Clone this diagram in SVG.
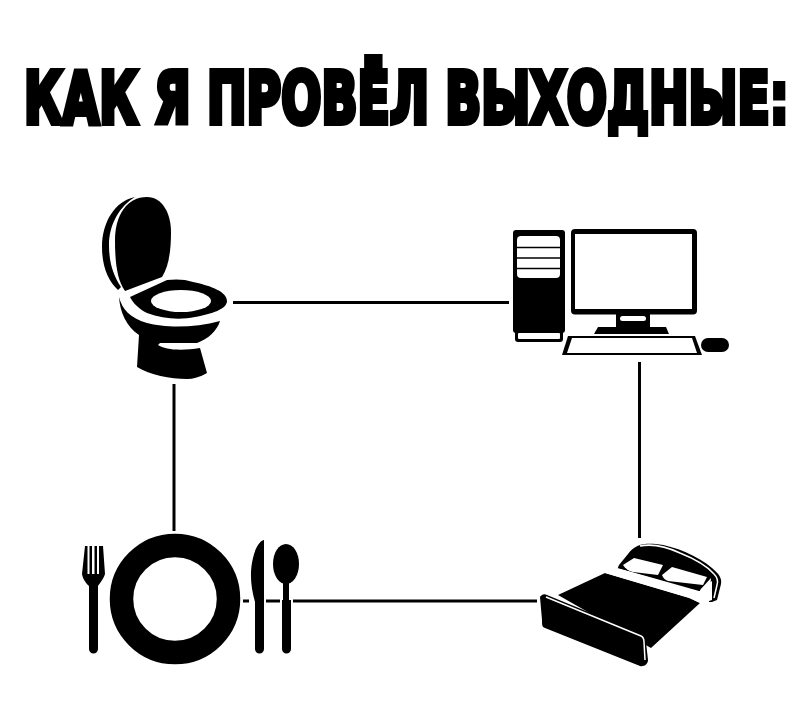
<svg xmlns="http://www.w3.org/2000/svg" width="807" height="719" viewBox="0 0 807 719">
<style>
.k{fill:#000}.w{fill:#fff}.l{stroke:#000;stroke-width:3;fill:none}
.t{font-family:"DejaVu Sans","Liberation Sans",sans-serif;font-weight:700;font-size:89px;fill:#000;stroke:#000;stroke-width:5px;stroke-linejoin:miter;vector-effect:non-scaling-stroke}
</style>
<rect width="807" height="719" fill="#fff"/>
<text class="t" transform="translate(24,122.500) scale(0.531,0.8)">КАК Я ПРОВЁЛ ВЫХОДНЫЕ:</text>
<g id="connectors">
<path class="l" d="M233 302.500H509M174 384V531M639.500 362V538M243 601H249M266 601H280M293 601H537"/>
</g>
<g id="toilet">
<path class="k" d="M147 197C162 197 171 213 171 232C171 250 169 266 162 277L125 291C117 280 115 262 115 240C115 215 127 197 147 197Z"/>
<path class="k" d="M135 197C115 201 102 222 102 247C102 266 108 281 118 290L121 287C113 275 109 262 109 245C109 224 120 206 135 197Z"/>
<path class="k" d="M130 297L167 280C175 279 185 279 193 282C212 286 227 292 227 301C227 309 212 314 195 317C180 320 163 319 147 313C139 309 133 303 130 297Z"/>
<ellipse class="w" cx="181" cy="301" rx="30" ry="11"/>
<path class="k" d="M119 297C122 309 130 318 147 323C165 328 195 328 220 321C217 331 208 339 197 343L160 343L158 345C165 350 182 351 200 348L207 373C200 377 193 379 187 379C170 379 150 375 137 367L139 335C126 326 120 312 119 297Z"/>
</g>
<g id="computer">
<rect class="k" x="513" y="230" width="52" height="103" rx="3"/>
<rect class="k" x="515" y="330" width="48" height="12" rx="3"/>
<rect class="w" x="518" y="333" width="42" height="6" rx="1"/>
<rect class="w" x="517" y="236" width="43" height="42" rx="4"/>
<path d="M517 247.500H560M517 258H560M517 268.500H560" stroke="#000" stroke-width="1.500" fill="none"/>
<rect class="k" x="571" y="229" width="126" height="85.500" rx="4"/>
<rect class="w" x="575" y="234" width="117" height="75"/>
<rect class="k" x="616" y="314" width="34" height="14"/>
<rect class="w" x="620" y="316" width="26" height="5" rx="2.500"/>
<path class="k" d="M594 334L598 327H666L669 334Z"/>
<path class="k" d="M562 355L568 336H695L702 355Z"/>
<path class="w" d="M567 353L572 338H692L697 353Z"/>
<rect class="k" x="701" y="338" width="28" height="14" rx="7"/>
</g>
<g id="plate">
<circle cx="175" cy="599" r="53.500" fill="none" stroke="#000" stroke-width="23.500"/>
<path class="k" d="M85 546H103L105 574C103 580 99 584 98 586V600L98 649A4.500 4.500 0 0 1 89 649V600L89 586C87 584 83 580 82 574Z"/>
<path class="w" d="M87.500 546H89.500V574H87.500ZM92 546H94.500V574H92ZM97 546H99V574H97Z"/>
<path class="k" d="M264 540V649A4.500 4.500 0 0 1 255 649V602C250 585 250 570 253 558C255 549 259 541 264 540Z"/>
<ellipse class="k" cx="286" cy="564" rx="13" ry="20"/>
<path class="k" d="M283 580H289L289 600H291V649A4.500 4.500 0 0 1 282 649V600H283Z"/>
</g>
<g id="bed">
<path class="k" d="M558 595L605 573L690 598L700 603L651 648Z"/>
<path class="k" d="M619 565L628 554C635 544 645 543 656 544C675 546 698 556 712 568C719 574 722 578 721 584L717 600L712 602H709L711 578L700 590L617 570Z"/>
<path class="w" d="M605 573L618 568L700 590L700 603L689 598Z"/>
<path class="k" d="M618 568L621 565L700 587L701 591L699 591Z"/>
<path class="w" d="M700 590L712 581L712 600L706 602L701 607L700 603Z"/>
<path class="w" d="M623 565L634 558L663 565L658 575L633 572C628 571 625 568 623 565Z"/>
<path class="w" d="M662 575L672 567L707 577L703 585L668 581C665 580 663 578 662 575Z"/>
<path d="M640 546C650 544 665 546 680 553C695 559 708 567 714 574C718 578 718 582 717 585L714 598" stroke="#fff" stroke-width="1.500" fill="none"/>
<path class="k" d="M540 597C541 595 544 593 547 595L642 634C645 636 646 638 646 642L648 660C648 664 644 667 640 666L545 628C542 627 542 625 542 620Z"/>
<path d="M546 597L641 636C643 637 644 639 644 642L645 660" stroke="#fff" stroke-width="1.500" fill="none"/>
</g>
</svg>
